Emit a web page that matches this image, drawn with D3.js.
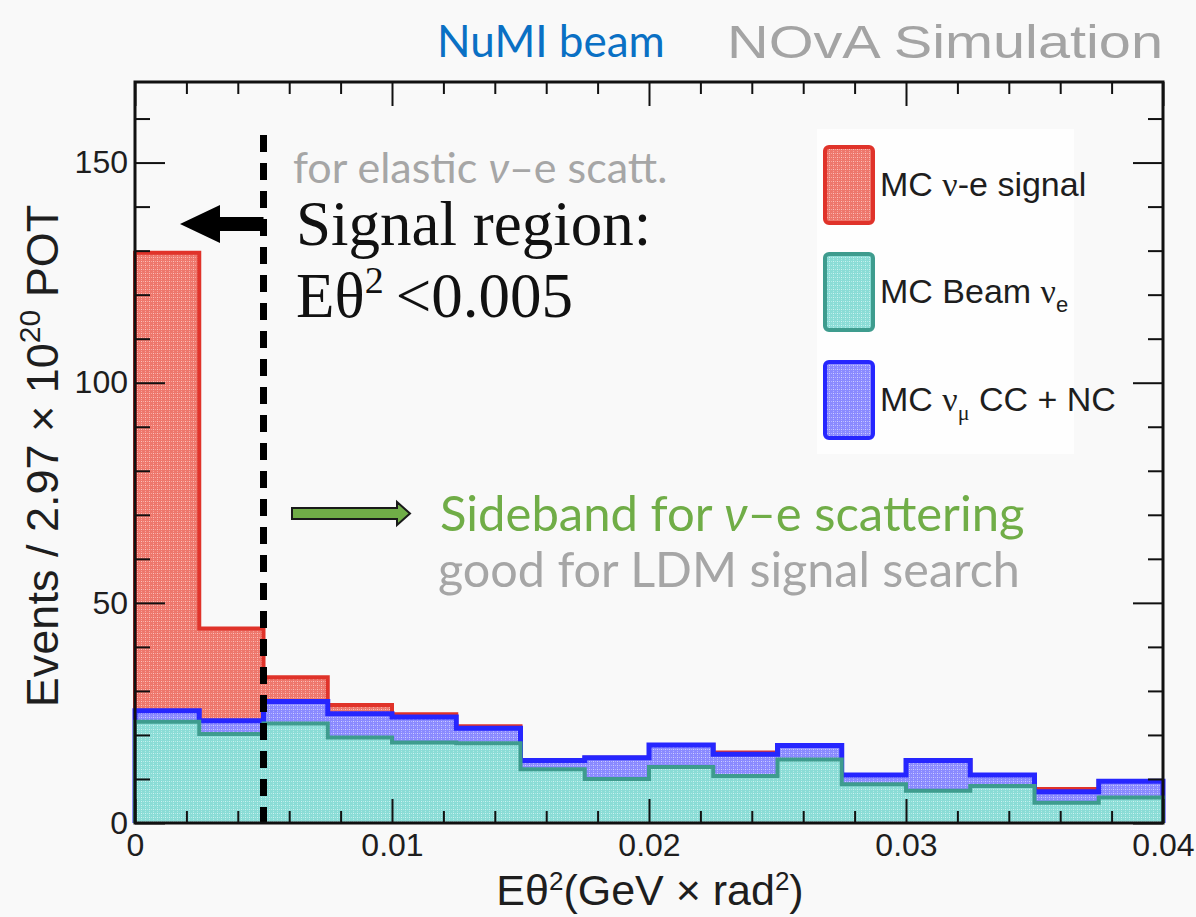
<!DOCTYPE html>
<html>
<head>
<meta charset="utf-8">
<script src="https://cdn.jsdelivr.net/npm/d3@7"></script>
<style>
  html, body { margin: 0; padding: 0; background: #f9f9f9; }
  svg { display: block; }
</style>
</head>
<body>
<svg id="chart" width="1196" height="917"></svg>
<script>
// Histogram bins: lower edges in E·θ² (GeV × rad²), each 0.0025 wide
const binLow = [0, 0.0025, 0.005, 0.0075, 0.01, 0.0125, 0.015, 0.0175,
                0.02, 0.0225, 0.025, 0.0275, 0.03, 0.0325, 0.035, 0.0375];
const binWidth = 0.0025;

// Stacked event counts per bin (events / 2.97e20 POT)
const beamNue   = [23.0, 20.2, 22.6, 19.4, 18.3, 18.1, 12.2, 10.0, 12.7, 10.7, 14.4, 8.8, 7.3, 8.4, 4.6, 5.8];
const numuCCNC  = [2.5, 3.0, 5.0, 5.4, 5.8, 3.4, 2.0, 4.8, 5.0, 4.9, 3.2, 2.1, 6.9, 2.5, 2.5, 3.7];
const nueSignal = [104.0, 21.0, 5.5, 2.0, 0.6, 0.5, 0, 0, 0, 0.4, 0, 0, 0, 0, 0.6, 0];

const xTickValues = [0, 0.01, 0.02, 0.03, 0.04];
const xTickLabels = ["0", "0.01", "0.02", "0.03", "0.04"];
const yTickValues = [0, 50, 100, 150];
const yTickLabels = ["0", "50", "100", "150"];
const signalCut = 0.005;

const svg = d3.select("#chart");
const frame = { left: 135, right: 1163, top: 82, bottom: 823 };

const x = d3.scaleLinear().domain([0, 0.04]).range([frame.left, frame.right]);
const y = d3.scaleLinear().domain([0, 168.3]).range([frame.bottom, frame.top]);

// ---- fill textures ----
const defs = svg.append("defs");
function texture(id, base, dot) {
  const p = defs.append("pattern").attr("id", id)
    .attr("patternUnits", "userSpaceOnUse").attr("width", 4).attr("height", 4);
  p.append("rect").attr("width", 4).attr("height", 4).attr("fill", base);
  p.append("rect").attr("x", 1).attr("y", 1).attr("width", 1).attr("height", 1)
    .attr("fill", dot).attr("opacity", 0.75);
  p.append("rect").attr("x", 3).attr("y", 1).attr("width", 1).attr("height", 1)
    .attr("fill", dot).attr("opacity", 0.45);
  p.append("rect").attr("x", 1).attr("y", 3).attr("width", 1).attr("height", 1)
    .attr("fill", dot).attr("opacity", 0.45);
}
texture("texSignal", "#ee776c", "#ffdcd8");
texture("texBeam", "#8adcd6", "#e4fbf9");
texture("texNumu", "#8a8aff", "#e6e6ff");

const layers = [
  { name: "MC ν-e signal", fill: "url(#texSignal)", stroke: "#e0332a", width: 4 },
  { name: "MC Beam νe", fill: "url(#texBeam)", stroke: "#3e9c8e", width: 4 },
  { name: "MC νμ CC + NC", fill: "url(#texNumu)", stroke: "#2626ff", width: 5 }
];

// cumulative stack tops
const stackNumu = binLow.map((_, i) => beamNue[i] + numuCCNC[i]);
const stackAll = binLow.map((_, i) => stackNumu[i] + nueSignal[i]);

function stepPoints(tops) {
  const pts = [[x(0), y(0)]];
  binLow.forEach((lo, i) => {
    pts.push([x(lo), y(tops[i])]);
    pts.push([x(lo + binWidth), y(tops[i])]);
  });
  pts.push([x(0.04), y(0)]);
  return pts;
}
const line = d3.line();

const hist = svg.append("g");
[[stackAll, layers[0]], [stackNumu, layers[2]], [beamNue, layers[1]]].forEach(([tops, L]) => {
  const pts = stepPoints(tops);
  hist.append("path").attr("d", line(pts) + "Z").attr("fill", L.fill).attr("stroke", "none");
  hist.append("path").attr("d", line(pts)).attr("fill", "none")
    .attr("stroke", L.stroke).attr("stroke-width", L.width).attr("stroke-linejoin", "miter");
});

// signal-region cut line
svg.append("line")
  .attr("x1", x(signalCut)).attr("x2", x(signalCut))
  .attr("y1", 135).attr("y2", frame.bottom)
  .attr("stroke", "#000").attr("stroke-width", 7)
  .attr("stroke-dasharray", "17 11");

// ---- axes (ticks inward on all four sides) ----
const tickFont = "'Liberation Sans', Arial, Helvetica, sans-serif";
function styleAxis(g) {
  g.select(".domain").remove();
  g.selectAll(".tick line").attr("stroke", "#111").attr("stroke-width", 2);
  g.selectAll("text").attr("font-family", tickFont).attr("font-size", 32).attr("fill", "#1e1e1e");
}
const xMinor = d3.range(0, 0.0401, 0.002).filter(v => !xTickValues.some(t => Math.abs(t - v) < 1e-9));
const yMinor = d3.range(0, 168, 10).filter(v => v % 50 !== 0);

svg.append("g").attr("transform", `translate(0,${frame.bottom})`)
  .call(d3.axisBottom(x).tickValues(xTickValues).tickFormat((d, i) => xTickLabels[i]).tickSize(-24).tickPadding(10))
  .call(styleAxis);
svg.append("g").attr("transform", `translate(0,${frame.bottom})`)
  .call(d3.axisBottom(x).tickValues(xMinor).tickFormat("").tickSize(-12)).call(styleAxis);
svg.append("g").attr("transform", `translate(0,${frame.top})`)
  .call(d3.axisTop(x).tickValues(xTickValues).tickFormat("").tickSize(-24)).call(styleAxis);
svg.append("g").attr("transform", `translate(0,${frame.top})`)
  .call(d3.axisTop(x).tickValues(xMinor).tickFormat("").tickSize(-12)).call(styleAxis);

svg.append("g").attr("transform", `translate(${frame.left},0)`)
  .call(d3.axisLeft(y).tickValues(yTickValues).tickFormat((d, i) => yTickLabels[i]).tickSize(-30).tickPadding(7))
  .call(styleAxis);
svg.append("g").attr("transform", `translate(${frame.left},0)`)
  .call(d3.axisLeft(y).tickValues(yMinor).tickFormat("").tickSize(-15)).call(styleAxis);
svg.append("g").attr("transform", `translate(${frame.right},0)`)
  .call(d3.axisRight(y).tickValues(yTickValues).tickFormat("").tickSize(-30)).call(styleAxis);
svg.append("g").attr("transform", `translate(${frame.right},0)`)
  .call(d3.axisRight(y).tickValues(yMinor).tickFormat("").tickSize(-15)).call(styleAxis);

svg.append("rect")
  .attr("x", frame.left).attr("y", frame.top)
  .attr("width", frame.right - frame.left).attr("height", frame.bottom - frame.top)
  .attr("fill", "none").attr("stroke", "#111").attr("stroke-width", 3);

// axis titles
const xt = svg.append("text").attr("x", 650).attr("y", 905).attr("text-anchor", "middle")
  .attr("font-family", tickFont).attr("font-size", 43).attr("fill", "#1e1e1e");
xt.append("tspan").text("Eθ");
xt.append("tspan").attr("font-size", 26).attr("dy", -15).text("2");
xt.append("tspan").attr("dy", 15).text("(GeV × rad");
xt.append("tspan").attr("font-size", 26).attr("dy", -15).text("2");
xt.append("tspan").attr("dy", 15).text(")");

const yt = svg.append("text").attr("transform", "translate(58,456) rotate(-90)")
  .attr("text-anchor", "middle")
  .attr("font-family", tickFont).attr("font-size", 45).attr("fill", "#1e1e1e");
yt.append("tspan").text("Events / 2.97 × 10");
yt.append("tspan").attr("font-size", 30).attr("dy", -18).text("20");
yt.append("tspan").attr("dy", 18).text(" POT");

// ---- legend ----
const leg = svg.append("g");
leg.append("rect").attr("x", 817).attr("y", 129).attr("width", 257).attr("height", 325)
  .attr("fill", "#fefefe");
const legendRows = [
  { L: layers[0], cy: 185 },
  { L: layers[1], cy: 292 },
  { L: layers[2], cy: 400 }
];
legendRows.forEach(({ L, cy }) => {
  leg.append("rect").attr("x", 825).attr("y", cy - 38).attr("width", 48).attr("height", 76)
    .attr("rx", 4).attr("fill", L.fill).attr("stroke", L.stroke).attr("stroke-width", 4);
});
function legText(cy) {
  return leg.append("text").attr("x", 880).attr("y", cy + 11)
    .attr("font-family", tickFont).attr("font-size", 34).attr("fill", "#1e1e1e");
}
const serif = "'Liberation Serif', 'Times New Roman', serif";
let t = legText(185);
t.append("tspan").text("MC ");
t.append("tspan").attr("font-family", serif).text("ν");
t.append("tspan").text("-e signal");
t = legText(292);
t.append("tspan").text("MC Beam ");
t.append("tspan").attr("font-family", serif).text("ν");
t.append("tspan").attr("font-size", 22).attr("dy", 9).text("e");
t = legText(400);
t.append("tspan").text("MC ");
t.append("tspan").attr("font-family", serif).text("ν");
t.append("tspan").attr("font-family", serif).attr("font-size", 22).attr("dy", 9).text("μ");
t.append("tspan").attr("dy", -9).text(" CC + NC");

// ---- headers ----
const humanist = "Lato, 'Open Sans', sans-serif";
svg.append("text").attr("x", 437).attr("y", 57)
  .attr("font-family", humanist).attr("font-size", 44).attr("fill", "#0a70c4")
  .text("NuMI beam");
svg.append("text").attr("x", 727).attr("y", 58)
  .attr("font-family", tickFont).attr("font-size", 46).attr("fill", "#a4a4a4")
  .attr("textLength", 436).attr("lengthAdjust", "spacingAndGlyphs")
  .text("NOvA Simulation");

// ---- signal-region annotation ----
const ann1 = svg.append("text").attr("x", 293).attr("y", 183)
  .attr("font-family", humanist).attr("font-size", 43).attr("fill", "#a6a6a6");
ann1.append("tspan").text("for elastic ");
ann1.append("tspan").attr("font-style", "italic").text("ν");
ann1.append("tspan").text("–e scatt.");

svg.append("text").attr("x", 296).attr("y", 245)
  .attr("font-family", serif).attr("font-size", 63).attr("fill", "#111")
  .text("Signal region:");
const cut = svg.append("text").attr("x", 296).attr("y", 317)
  .attr("font-family", serif).attr("font-size", 63).attr("fill", "#111");
cut.append("tspan").text("Eθ");
cut.append("tspan").attr("font-size", 38).attr("dy", -24).text("2");
cut.append("tspan").attr("dy", 24).attr("dx", 12).text("<0.005");

// arrow pointing into the signal region
const xc = x(signalCut);
svg.append("path")
  .attr("d", `M${xc},217 L220,217 L220,205 L180,224 L220,243 L220,231 L${xc},231 Z`)
  .attr("fill", "#000");

// ---- sideband annotation ----
svg.append("path")
  .attr("d", "M292,508 L397,508 L397,502 L410,513.5 L397,525 L397,519 L292,519 Z")
  .attr("fill", "#70ad47").attr("stroke", "#1a1a1a").attr("stroke-width", 2);
const ann2 = svg.append("text").attr("x", 440).attr("y", 531)
  .attr("font-family", humanist).attr("font-size", 49).attr("fill", "#70ad47");
ann2.append("tspan").text("Sideband for ");
ann2.append("tspan").attr("font-style", "italic").text("ν");
ann2.append("tspan").text("–e scattering");
svg.append("text").attr("x", 438).attr("y", 587)
  .attr("font-family", humanist).attr("font-size", 48.5).attr("fill", "#a6a6a6")
  .text("good for LDM signal search");
</script>
</body>
</html>
